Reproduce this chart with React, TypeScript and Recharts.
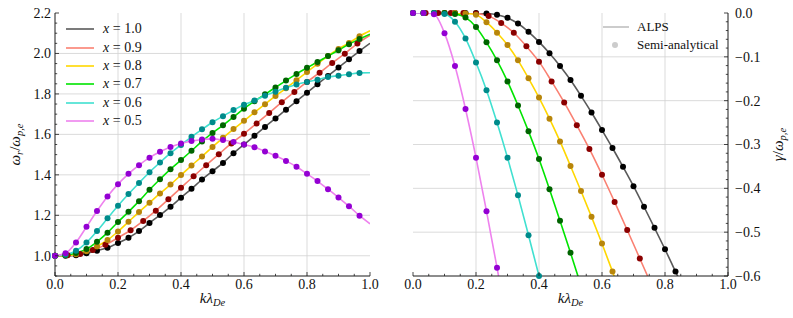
import React from "react";
import { ComposedChart, Line, XAxis, YAxis, ReferenceLine } from "recharts";

const FONT = "'Liberation Serif', 'Times New Roman', 'DejaVu Serif', serif";

// k grids of the two data sets (the x = 0.9 run uses a coarser step)
const k30 = [0, 0.0333, 0.0667, 0.1, 0.1333, 0.1667, 0.2, 0.2333, 0.2667, 0.3, 0.3333, 0.3667, 0.4, 0.4333, 0.4667, 0.5, 0.5333, 0.5667, 0.6, 0.6333, 0.6667, 0.7, 0.7333, 0.7667, 0.8, 0.8333, 0.8667, 0.9, 0.9333, 0.9667, 1.0];
const k25 = [0, 0.04, 0.08, 0.12, 0.16, 0.2, 0.24, 0.28, 0.32, 0.36, 0.4, 0.44, 0.48, 0.52, 0.56, 0.6, 0.64, 0.68, 0.72, 0.76, 0.8, 0.84, 0.88, 0.92, 0.96, 1.0];

// real frequency w_r / w_pe
const omega10 = [1.0, 1.0, 1.002, 1.012, 1.025, 1.04, 1.063, 1.089, 1.122, 1.162, 1.201, 1.242, 1.287, 1.331, 1.377, 1.418, 1.459, 1.507, 1.55, 1.593, 1.637, 1.679, 1.722, 1.764, 1.806, 1.848, 1.889, 1.93, 1.971, 2.012, 2.05];
const omega09 = [1.0, 1.002, 1.009, 1.028, 1.054, 1.089, 1.126, 1.172, 1.223, 1.279, 1.336, 1.393, 1.448, 1.502, 1.555, 1.603, 1.654, 1.706, 1.759, 1.81, 1.859, 1.905, 1.953, 1.999, 2.049, 2.09];
const omega08 = [1.0, 1.002, 1.008, 1.022, 1.046, 1.078, 1.12, 1.168, 1.216, 1.262, 1.308, 1.352, 1.399, 1.446, 1.491, 1.538, 1.583, 1.626, 1.667, 1.709, 1.749, 1.79, 1.828, 1.868, 1.908, 1.949, 1.988, 2.022, 2.052, 2.085, 2.112];
const omega07 = [1.0, 1.003, 1.014, 1.033, 1.069, 1.114, 1.167, 1.217, 1.27, 1.326, 1.378, 1.428, 1.473, 1.519, 1.565, 1.607, 1.645, 1.686, 1.727, 1.764, 1.798, 1.832, 1.866, 1.899, 1.929, 1.958, 1.987, 2.016, 2.046, 2.071, 2.095];
const omega06 = [1.0, 1.005, 1.025, 1.065, 1.122, 1.185, 1.247, 1.305, 1.36, 1.413, 1.461, 1.507, 1.548, 1.588, 1.625, 1.66, 1.69, 1.72, 1.746, 1.767, 1.791, 1.811, 1.83, 1.847, 1.859, 1.87, 1.884, 1.89, 1.897, 1.904, 1.905];
const omega05 = [1.0, 1.012, 1.066, 1.143, 1.221, 1.293, 1.354, 1.405, 1.448, 1.485, 1.514, 1.538, 1.555, 1.567, 1.575, 1.578, 1.572, 1.562, 1.55, 1.537, 1.516, 1.494, 1.469, 1.44, 1.405, 1.369, 1.329, 1.288, 1.245, 1.198, 1.158];

// damping rate gamma / w_pe
const gamma10 = [0, 0, 0, 0, 0, 0, 0, -0.001, -0.004, -0.011, -0.024, -0.043, -0.066, -0.092, -0.121, -0.153, -0.189, -0.227, -0.267, -0.308, -0.351, -0.395, -0.442, -0.49, -0.539, -0.59, -0.64];
const gamma09 = [0, 0, 0, 0, 0, -0.001, -0.007, -0.023, -0.045, -0.076, -0.111, -0.156, -0.204, -0.256, -0.31, -0.369, -0.431, -0.495, -0.56, -0.625];
const gamma08 = [0, 0, 0, 0, 0, -0.001, -0.004, -0.021, -0.045, -0.073, -0.108, -0.149, -0.193, -0.241, -0.293, -0.349, -0.406, -0.465, -0.526, -0.59, -0.655];
const gamma07 = [0, 0, 0, 0, -0.002, -0.01, -0.032, -0.067, -0.108, -0.156, -0.211, -0.27, -0.333, -0.402, -0.474, -0.547, -0.622];
const gamma06 = [0, 0, 0, -0.002, -0.02, -0.058, -0.113, -0.176, -0.25, -0.33, -0.416, -0.507, -0.6, -0.695];
const gamma05 = [0, 0, -0.003, -0.046, -0.121, -0.219, -0.33, -0.452, -0.581, -0.712];

const labels = ["1.0", "0.9", "0.8", "0.7", "0.6", "0.5"];
const lineColors = ["#5a5a5a", "#fa8072", "#ffd700", "#00e400", "#40e0d0", "#ee82ee"];
const dotColors = ["#000000", "#8b0000", "#b8860b", "#006400", "#008b8b", "#9400d3"];
const kGrids = [k30, k25, k30, k30, k30, k30];
const omegas = [omega10, omega09, omega08, omega07, omega06, omega05];
const gammas = [gamma10, gamma09, gamma08, gamma07, gamma06, gamma05];

const xMajor = [0, 0.2, 0.4, 0.6, 0.8, 1.0];
const omegaMajor = [1.0, 1.2, 1.4, 1.6, 1.8, 2.0, 2.2];
const gammaMajor = [-0.6, -0.5, -0.4, -0.3, -0.2, -0.1, 0];

const range = (a: number, b: number, d: number) => {
  const out: number[] = [];
  const n = Math.round((b - a) / d);
  for (let i = 0; i <= n; i++) out.push(+(a + i * d).toFixed(4));
  return out;
};
const xTicks = range(0, 1, 0.05);
const omegaTicks = range(0.9, 2.2, 0.05);
const gammaTicks = range(-0.6, 0, 0.02);

const rows = (ks: number[], vs: number[]) => vs.map((v, i) => ({ k: ks[i], v }));

const fmt = (v: number) => {
  const s = Math.abs(v).toFixed(1);
  return v < -1e-9 ? "\u2212" + s : s;
};

const FRAME = { stroke: "#1a1a1a", strokeWidth: 1 };
const GRID = "#d2d2d2";

function makeTick(side: string, margin: number, majors: number[], showLabel: boolean) {
  return function Tick(props: any) {
    const { x, y, payload } = props;
    const v = payload.value;
    const major = majors.some((m) => Math.abs(m - v) < 1e-6);
    const len = major ? 4 : 2.2;
    let x0 = x, y0 = y, x1 = x, y1 = y;
    if (side === "bottom") { y0 = y - margin; y1 = y0 - len; }
    else if (side === "top") { y0 = y + margin; y1 = y0 + len; }
    else if (side === "left") { x0 = x + margin; x1 = x0 + len; }
    else { x0 = x - margin; x1 = x0 - len; }
    let text = null;
    if (showLabel && major) {
      const common = { fontFamily: FONT, fontSize: 14, fill: "#111" };
      if (side === "bottom") text = <text x={x} y={y} dy="0.71em" textAnchor="middle" {...common}>{fmt(v)}</text>;
      else if (side === "left") text = <text x={x} y={y} dy="0.355em" textAnchor="end" {...common}>{fmt(v)}</text>;
      else text = <text x={x} y={y} dy="0.355em" textAnchor="start" {...common}>{fmt(v)}</text>;
    }
    return (
      <g>
        <line x1={x0} y1={y0} x2={x1} y2={y1} stroke="#1a1a1a" strokeWidth={0.8} />
        {text}
      </g>
    );
  };
}

function XLabel(props: any) {
  const vb = props.viewBox || { x: 55, y: 276, width: 315 };
  const cx = vb.x + vb.width / 2;
  const y = vb.y + 27;
  return (
    <text x={cx} y={y} textAnchor="middle" style={{ fontFamily: FONT }} fontSize={15} fill="#111">
      <tspan fontStyle="italic">kλ</tspan>
      <tspan fontStyle="italic" fontSize={10.5} dy={3}>De</tspan>
    </text>
  );
}

function OmegaLabel(props: any) {
  const vb = props.viewBox || { x: 0, y: 13, height: 263 };
  const x = 20;
  const y = vb.y + vb.height / 2;
  return (
    <text x={x} y={y} transform={`rotate(-90 ${x} ${y})`} textAnchor="middle" style={{ fontFamily: FONT }} fontSize={15} fill="#111">
      <tspan fontStyle="italic">ω</tspan>
      <tspan fontStyle="italic" fontSize={10.5} dy={3}>r</tspan>
      <tspan dy={-3}>/</tspan>
      <tspan fontStyle="italic">ω</tspan>
      <tspan fontStyle="italic" fontSize={10.5} dy={3}>p,e</tspan>
    </text>
  );
}

function GammaLabel(props: any) {
  const vb = props.viewBox || { x: 328, y: 13, height: 263 };
  const x = vb.x + 55;
  const y = vb.y + vb.height / 2;
  return (
    <text x={x} y={y} transform={`rotate(-90 ${x} ${y})`} textAnchor="middle" style={{ fontFamily: FONT }} fontSize={15} fill="#111">
      <tspan fontStyle="italic">γ</tspan>
      <tspan>/</tspan>
      <tspan fontStyle="italic">ω</tspan>
      <tspan fontStyle="italic" fontSize={10.5} dy={3}>p,e</tspan>
    </text>
  );
}

function OmegaChart() {
  return (
    <ComposedChart width={400} height={318} margin={{ top: 13, right: 30, bottom: 0, left: 0 }} style={{ fontFamily: FONT }}>
      <XAxis xAxisId="x" type="number" dataKey="k" domain={[0, 1]} allowDataOverflow ticks={xTicks} interval={0}
        tickSize={0} tickMargin={3} height={42} axisLine={FRAME} tickLine={false}
        tick={makeTick("bottom", 3, xMajor, true)} label={<XLabel />} />
      <XAxis xAxisId="xt" orientation="top" type="number" dataKey="k" domain={[0, 1]} allowDataOverflow ticks={xTicks} interval={0}
        tickSize={0} tickMargin={0} height={0} axisLine={FRAME} tickLine={false}
        tick={makeTick("top", 0, xMajor, false)} />
      <YAxis yAxisId="y" type="number" domain={[0.9, 2.2]} allowDataOverflow ticks={omegaTicks} interval={0}
        tickSize={0} tickMargin={4} width={55} axisLine={FRAME} tickLine={false}
        tick={makeTick("left", 4, omegaMajor, true)} label={<OmegaLabel />} />
      <YAxis yAxisId="yr" orientation="right" type="number" domain={[0.9, 2.2]} allowDataOverflow ticks={omegaTicks} interval={0}
        tickSize={0} tickMargin={0} width={0} axisLine={FRAME} tickLine={false}
        tick={makeTick("right", 0, omegaMajor, false)} />
      {omegaMajor.slice(0, -1).map((v) => (
        <ReferenceLine key={"h" + v} xAxisId="x" yAxisId="y" y={v} stroke={GRID} strokeWidth={0.8} />
      ))}
      {xMajor.slice(1, -1).map((v) => (
        <ReferenceLine key={"v" + v} xAxisId="x" yAxisId="y" x={v} stroke={GRID} strokeWidth={0.8} />
      ))}
      {labels.map((lab, i) => (
        <Line key={"l" + lab} xAxisId="x" yAxisId="y" data={rows(kGrids[i], omegas[i])} dataKey="v" type="monotone"
          stroke={lineColors[i]} strokeWidth={1.6} dot={false} activeDot={false} isAnimationActive={false} />
      ))}
      {labels.map((lab, i) => (
        <Line key={"d" + lab} xAxisId="x" yAxisId="y" data={rows(kGrids[i], omegas[i]).slice(0, -1)} dataKey="v"
          stroke="none" dot={{ r: 3, fill: dotColors[i], stroke: "none", clipDot: false }} activeDot={false}
          isAnimationActive={false} />
      ))}
    </ComposedChart>
  );
}

function GammaChart() {
  return (
    <ComposedChart width={393} height={318} margin={{ top: 13, right: 0, bottom: 0, left: 13 }} style={{ fontFamily: FONT }}>
      <XAxis xAxisId="x" type="number" dataKey="k" domain={[0, 1]} allowDataOverflow ticks={xTicks} interval={0}
        tickSize={0} tickMargin={3} height={42} axisLine={FRAME} tickLine={false}
        tick={makeTick("bottom", 3, xMajor, true)} label={<XLabel />} />
      <XAxis xAxisId="xt" orientation="top" type="number" dataKey="k" domain={[0, 1]} allowDataOverflow ticks={xTicks} interval={0}
        tickSize={0} tickMargin={0} height={0} axisLine={FRAME} tickLine={false}
        tick={makeTick("top", 0, xMajor, false)} />
      <YAxis yAxisId="yl" type="number" domain={[-0.6, 0]} allowDataOverflow ticks={gammaTicks} interval={0}
        tickSize={0} tickMargin={0} width={0} axisLine={FRAME} tickLine={false}
        tick={makeTick("left", 0, gammaMajor, false)} />
      <YAxis yAxisId="y" orientation="right" type="number" domain={[-0.6, 0]} allowDataOverflow ticks={gammaTicks} interval={0}
        tickSize={0} tickMargin={7} width={65} axisLine={FRAME} tickLine={false}
        tick={makeTick("right", 7, gammaMajor, true)} label={<GammaLabel />} />
      {gammaMajor.slice(1, -1).map((v) => (
        <ReferenceLine key={"h" + v} xAxisId="x" yAxisId="y" y={v} stroke={GRID} strokeWidth={0.8} />
      ))}
      {xMajor.slice(1, -1).map((v) => (
        <ReferenceLine key={"v" + v} xAxisId="x" yAxisId="y" x={v} stroke={GRID} strokeWidth={0.8} />
      ))}
      {labels.map((lab, i) => (
        <Line key={"l" + lab} xAxisId="x" yAxisId="y" data={rows(kGrids[i], gammas[i])} dataKey="v" type="monotone"
          stroke={lineColors[i]} strokeWidth={1.6} dot={false} activeDot={false} isAnimationActive={false} />
      ))}
      {labels.map((lab, i) => (
        <Line key={"d" + lab} xAxisId="x" yAxisId="y"
          data={rows(kGrids[i], gammas[i]).filter((r) => r.v >= -0.6 - 1e-9)} dataKey="v"
          stroke="none" dot={{ r: 3, fill: dotColors[i], stroke: "none", clipDot: false }} activeDot={false}
          isAnimationActive={false} />
      ))}
    </ComposedChart>
  );
}

const legendText: React.CSSProperties = { fontFamily: FONT, fontSize: 14, color: "#111", whiteSpace: "nowrap" };

export default function App() {
  return (
    <div style={{ position: "absolute", left: 0, top: 0, width: 793, height: 318, background: "#fff", fontFamily: FONT }}>
      <div style={{ position: "absolute", left: 0, top: 0 }}>
        <OmegaChart />
      </div>
      <div style={{ position: "absolute", left: 400, top: 0 }}>
        <GammaChart />
      </div>
      {labels.map((lab, i) => (
        <div key={lab} style={{ position: "absolute", left: 66, top: 29.3 + i * 18.35 - 9, height: 18, display: "flex", alignItems: "center" }}>
          <svg width={28} height={18} style={{ display: "block" }}>
            <line x1={0} y1={9} x2={28} y2={9} stroke={lineColors[i]} strokeWidth={1.6} />
          </svg>
          <span style={{ ...legendText, marginLeft: 9 }}>
            <i>x</i> = {lab}
          </span>
        </div>
      ))}
      <div style={{ position: "absolute", left: 603, top: 27 - 9, height: 18, display: "flex", alignItems: "center" }}>
        <svg width={26} height={18} style={{ display: "block" }}>
          <line x1={0} y1={9} x2={26} y2={9} stroke="#cccccc" strokeWidth={2} />
        </svg>
        <span style={{ ...legendText, fontSize: 13, marginLeft: 8 }}>ALPS</span>
      </div>
      <div style={{ position: "absolute", left: 603, top: 45 - 9, height: 18, display: "flex", alignItems: "center" }}>
        <svg width={26} height={18} style={{ display: "block" }}>
          <circle cx={12} cy={9} r={3} fill="#cccccc" />
        </svg>
        <span style={{ ...legendText, fontSize: 13, marginLeft: 8 }}>Semi-analytical</span>
      </div>
    </div>
  );
}
